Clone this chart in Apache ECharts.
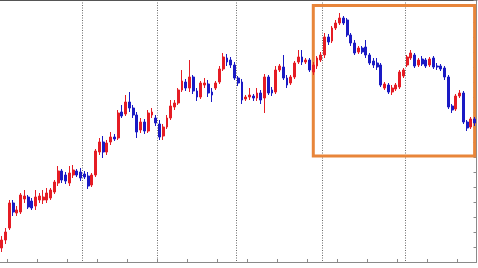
<!DOCTYPE html>
<html>
<head>
<meta charset="utf-8">
<script src="https://cdn.jsdelivr.net/npm/echarts@6/dist/echarts.min.js"></script>
<style>html,body{margin:0;padding:0;background:#fff;}#c{width:478px;height:268px;}</style>
</head>
<body>
<div id="c"></div>
<script>
var opens = [14,22,34,59,49,50,63,65,61,56, 62,62,62,64,70,79,91,87,79,87, 91,90,88,86,77,87,110,120,110,120, 125,124,150,148,160,154,147,132,140,131, 147,144,138,126,135,144,155,159,172,180, 174,185,171,165,177,178,170,174,180,193, 204,202,197,184,180,163,165,166,164,169, 164,185,172,170,192,195,184,179,185,200, 205,200,202,190,196,202,207,225,221,234, 239,244,242,227,219,210,214,215,207,201, 199,197,174,177,170,173,175,186,197,204, 207,197,203,202,197,204,196,196,194,185, 156,153,166,169,140,135,143];
var closes = [22,30,59,50,52,67,66,55,54,65, 66,65,69,72,80,91,82,81,89,92, 87,84,85,76,87,111,120,110,119,125, 123,149,146,160,154,147,130,140,131,149, 150,139,125,135,144,156,159,172,181,174, 185,171,165,179,179,169,167,179,193,205, 200,197,184,179,162,165,167,164,169,162, 185,169,169,192,196,184,177,185,199,205, 200,202,192,197,204,207,225,220,234,239, 244,239,227,219,209,214,210,207,199,197, 195,177,178,170,174,177,190,192,205,209, 196,202,198,196,203,195,195,193,185,155, 152,166,169,140,134,143,139];
var highs = [26,34,62,62,56,69,72,67,64,72, 69,72,74,74,82,96,93,90,96,97, 93,94,91,90,89,113,124,126,122,130, 128,152,157,167,170,157,150,144,143,152, 154,147,142,138,147,162,162,174,192,183, 202,187,174,181,184,182,174,181,196,209, 208,205,200,186,183,167,174,168,174,172, 188,187,175,196,198,207,187,187,201,212, 212,204,204,200,206,210,229,228,236,242, 249,246,244,229,222,216,216,222,209,204, 204,199,180,179,177,179,192,194,207,212, 209,204,206,204,205,206,199,198,196,187, 158,168,172,171,142,145,145];
var lows = [10,18,32,46,46,48,59,53,52,52, 59,58,59,62,68,76,79,78,76,84, 85,81,83,73,75,85,107,104,107,117, 121,122,144,146,150,144,124,129,128,129, 144,136,122,122,133,142,152,157,170,171, 170,168,161,163,174,165,160,172,178,191, 196,194,182,176,158,161,162,161,161,158, 149,167,166,168,190,182,174,177,183,198, 197,198,190,187,193,200,204,217,219,232, 237,237,225,216,207,208,208,204,197,194, 192,175,172,168,167,171,173,184,195,202, 194,195,196,194,195,193,192,191,182,153, 149,151,164,138,131,133,136];
var categories = opens.map(function (_, i) { return 'bar' + (i + 1); });
var sessionBreaks = [22, 42, 63, 86, 108];
var focusBox = { fromBar: 83, toBar: 126, top: 256.5, bottom: 106 };

var candles = opens.map(function (o, i) { return [o, closes[i], lows[i], highs[i]]; });

var chart = echarts.init(document.getElementById('c'), null, { renderer: 'canvas' });
chart.setOption({
  animation: false,
  backgroundColor: '#ffffff',
  grid: { left: 0, right: 1.5, top: 0, bottom: 6, containLabel: false },
  xAxis: [{
    type: 'category',
    data: categories,
    boundaryGap: true,
    position: 'bottom',
    offset: 4,
    axisLine: { show: true, lineStyle: { color: '#8a8a8a', width: 1 } },
    axisTick: { show: true, inside: true, length: 3, lineStyle: { color: '#8a8a8a' },
      interval: function (idx) { return idx >= 2 && (idx - 2) % 8 === 0; } },
    axisLabel: { show: false },
    splitLine: { show: true, lineStyle: { color: '#6a6a6a', type: [1, 1.5], width: 1 },
      interval: function (idx) { return sessionBreaks.indexOf(idx) >= 0; } }
  }, {
    type: 'category',
    data: categories,
    position: 'top',
    axisLine: { show: true, lineStyle: { color: '#555', width: 2 } },
    axisTick: { show: false },
    axisLabel: { show: false },
    splitLine: { show: false }
  }],
  yAxis: {
    type: 'value',
    position: 'right',
    min: 0,
    max: 262,
    interval: 15,
    axisLine: { show: true, lineStyle: { color: '#8a8a8a', width: 1 } },
    axisTick: { show: true, inside: true, length: 3, lineStyle: { color: '#8a8a8a' } },
    axisLabel: { show: false },
    splitLine: { show: false }
  },
  series: [{
    type: 'candlestick',
    xAxisIndex: 0,
    data: candles,
    barWidth: 2.4,
    itemStyle: {
      color: '#e51c24', color0: '#1a1ac4',
      borderColor: '#e51c24', borderColor0: '#1a1ac4', borderWidth: 1
    },
    markArea: {
      silent: true,
      itemStyle: { color: 'rgba(0,0,0,0)', borderColor: '#e8853a', borderWidth: 3 },
      data: [[{ xAxis: focusBox.fromBar, yAxis: focusBox.top }, { xAxis: focusBox.toBar, yAxis: focusBox.bottom }]]
    }
  }]
});
</script>
</body>
</html>
